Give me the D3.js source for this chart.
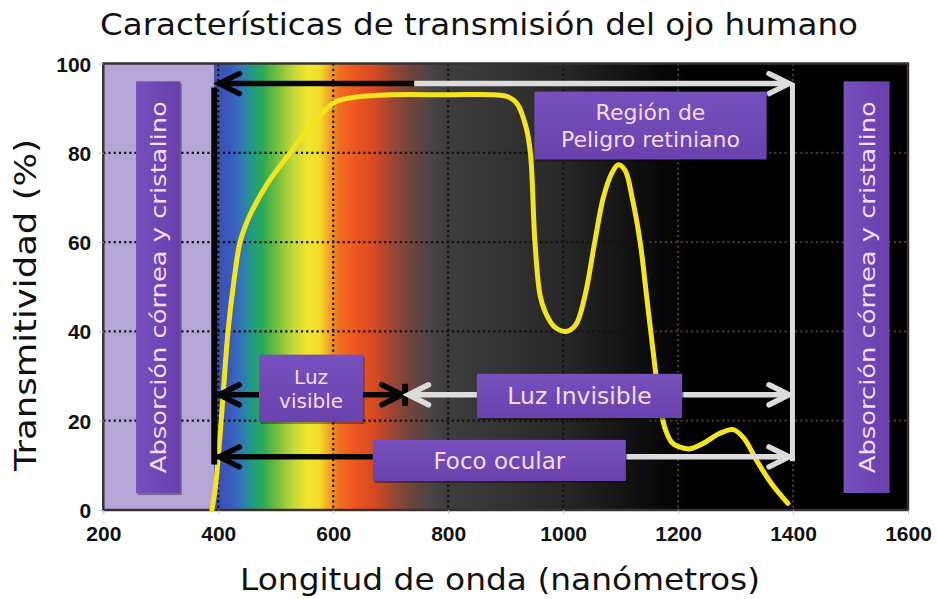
<!DOCTYPE html>
<html><head><meta charset="utf-8">
<script src="https://cdn.jsdelivr.net/npm/d3@7"></script>
<style>body{margin:0;background:#fff}svg{display:block}</style>
</head><body>
<svg id="c" width="937" height="599"></svg>
<script>
// ---- data ----
const wavelength = [389,395,402,408,417,428,438,455,485,525,551,582,605,640,700,800,880,905,920,935,943,951,960,970,985,1005,1022,1038,1055,1070,1085,1096,1108,1120,1134,1146,1158,1168,1178,1190,1205,1221,1245,1270,1296,1315,1337,1362,1391];
const transmission = [0,5,15,25,40,52,60,66,73,80,84.5,89,91.5,92.5,93,93,93,92.5,91,86,80,60,48,44,41,40,41.5,48,60,70,75.5,77.3,76,70,60,47,34,24,18,15,14,13.7,15,17,18,16,11,6,1.5];
const xTicks = [200,400,600,800,1000,1200,1400,1600];
const yTicks = [0,20,40,60,80,100];
const gridX = [400,600,800,1000,1200,1400];
const gridY = [20,40,60,80];
const titleText = "Características de transmisión del ojo humano";
const xTitle = "Longitud de onda (nanómetros)";
const yTitle = "Transmitividad (%)";
const boxLabels = [["Región de","Peligro retiniano"],["Luz","visible"],["Luz Invisible"],["Foco ocular"]];
const sideLabel = "Absorción córnea  y cristalino";
// box extents in data units [x0,x1,y0,y1]
const boxExtents = [[950,1354,78.5,93.7],[471,652,19.7,34.8],[850,1207,20.6,30.5],[669,1109,6.5,15.7]];
const sideBoxes = [[257,334,3.8,96],[1488,1568,3.8,96]];

// ---- layout ----
const svg = d3.select("#c");
const L = 103.3, R = 908, T = 63.5, B = 510;
const x = d3.scaleLinear().domain([200,1600]).range([L,R]);
const y = d3.scaleLinear().domain([0,100]).range([B,T]);

const defs = svg.append("defs");
const grad = defs.append("linearGradient").attr("id","spec")
  .attr("gradientUnits","userSpaceOnUse").attr("x1",x(393)).attr("x2",x(1220)).attr("y1",0).attr("y2",0);
const stops = [[393,"#3b4fb0"],[420,"#3a58bc"],[440,"#3276b8"],[458,"#1f9a86"],[478,"#2eaa55"],[505,"#7cc03a"],[530,"#c2d83a"],[555,"#f0e52e"],[575,"#f4de2a"],[592,"#f3a824"],[610,"#f0701e"],[640,"#ee5420"],[672,"#d44a22"],[700,"#a04630"],[735,"#6e443c"],[770,"#4a4444"],[800,"#3c3c3c"],[900,"#333"],[1000,"#272727"],[1100,"#141414"],[1220,"#000"]];
stops.forEach(s=>grad.append("stop").attr("offset",(s[0]-393)/(1220-393)).attr("stop-color",s[1]));
const pg = defs.append("linearGradient").attr("id","pbox").attr("x1",0).attr("x2",0).attr("y1",0).attr("y2",1);
pg.append("stop").attr("offset",0).attr("stop-color","#7650bd");
pg.append("stop").attr("offset",1).attr("stop-color","#6a42ae");
const sg = defs.append("linearGradient").attr("id","pboxv").attr("x1",0).attr("x2",1).attr("y1",0).attr("y2",0);
sg.append("stop").attr("offset",0).attr("stop-color","#7550bc");
sg.append("stop").attr("offset",1).attr("stop-color","#683fad");
defs.append("clipPath").attr("id","plot").append("rect").attr("x",L).attr("y",T).attr("width",R-L).attr("height",B-T);

// backgrounds
svg.append("rect").attr("x",L).attr("y",T).attr("width",R-L).attr("height",B-T).attr("fill","#000");
svg.append("rect").attr("x",x(393)).attr("y",T).attr("width",R-x(393)).attr("height",B-T).attr("fill","url(#spec)");
svg.append("rect").attr("x",L).attr("y",T).attr("width",x(393)-L).attr("height",B-T).attr("fill","#b4a6d6");

// grid
const g = svg.append("g").attr("clip-path","url(#plot)");
gridX.forEach(v=>{
  g.append("line").attr("x1",x(v)).attr("x2",x(v)).attr("y1",T).attr("y2",B)
   .attr("stroke",v>=1200?"#4a3424":"#111").attr("stroke-width",2.2).attr("stroke-dasharray","2.2,3");
});
gridY.forEach(v=>{
  g.append("line").attr("x1",L).attr("x2",x(1150)).attr("y1",y(v)).attr("y2",y(v))
   .attr("stroke","#111").attr("stroke-width",2.2).attr("stroke-dasharray","2.2,3");
  g.append("line").attr("x1",x(1150)).attr("x2",R).attr("y1",y(v)).attr("y2",y(v))
   .attr("stroke","#4a3424").attr("stroke-width",2.2).attr("stroke-dasharray","2.2,3");
});

// frame
svg.append("rect").attr("x",L).attr("y",T).attr("width",R-L).attr("height",B-T)
  .attr("fill","none").attr("stroke","#3a3030").attr("stroke-width",2.5);

// axes
const xa = svg.append("g").attr("transform",`translate(0,${B})`)
  .call(d3.axisBottom(x).tickValues(xTicks).tickFormat(d3.format("d")).tickSize(4).tickPadding(12));
xa.select(".domain").remove();
xa.selectAll("line").attr("stroke","#9cc8e8");
xa.selectAll("text").attr("font-family","Liberation Sans, Arial, sans-serif").attr("font-weight","bold")
  .attr("font-size",21).attr("fill","#111");
const ya = svg.append("g").attr("transform",`translate(${L},0)`)
  .call(d3.axisLeft(y).tickValues(yTicks).tickSize(4).tickPadding(8));
ya.select(".domain").remove();
ya.selectAll("line").attr("stroke","#9cc8e8");
ya.selectAll("text").attr("font-family","Liberation Sans, Arial, sans-serif").attr("font-weight","bold")
  .attr("font-size",21).attr("fill","#111").attr("dy","0.36em");

// titles
const gothic = "DejaVu Sans, Verdana, sans-serif";
svg.append("text").attr("x",479).attr("y",35).attr("text-anchor","middle")
  .attr("font-family",gothic).attr("font-size",31).attr("fill","#111")
  .attr("textLength",758).attr("lengthAdjust","spacingAndGlyphs").text(titleText);
svg.append("text").attr("x",500).attr("y",590).attr("text-anchor","middle")
  .attr("font-family",gothic).attr("font-size",31).attr("fill","#111")
  .attr("textLength",520).attr("lengthAdjust","spacingAndGlyphs").text(xTitle);
svg.append("text").attr("transform","translate(36,305) rotate(-90)").attr("text-anchor","middle")
  .attr("font-family",gothic).attr("font-size",31).attr("fill","#111")
  .attr("textLength",332).attr("lengthAdjust","spacingAndGlyphs").text(yTitle);

// curve
const pts = wavelength.map((w,i)=>[w,transmission[i]]);
svg.append("path").datum(pts).attr("fill","none").attr("stroke","#f4e41c").attr("stroke-width",5)
  .attr("stroke-linecap","round").attr("stroke-linejoin","round")
  .attr("d",d3.line().x(d=>x(d[0])).y(d=>y(d[1])).curve(d3.curveCatmullRom.alpha(0.5)));

// arrows
const BLACK="#050505", WHITE="#dcdcdc";
function seg(x1,x2,yy,col,w){svg.append("line").attr("x1",x1).attr("x2",x2).attr("y1",yy).attr("y2",yy)
  .attr("stroke",col).attr("stroke-width",w);}
function head(tx,yy,dir,col){ // dir -1: points left, +1 points right
  const l=20,h=10;
  svg.append("path").attr("d",`M${tx-dir*l},${yy-h}L${tx},${yy}L${tx-dir*l},${yy+h}`)
   .attr("fill","none").attr("stroke",col).attr("stroke-width",5.5).attr("stroke-linecap","round").attr("stroke-linejoin","miter");
}
function vline(xx,y1,y2,col,w){svg.append("line").attr("x1",xx).attr("x2",xx).attr("y1",y1).attr("y2",y2).attr("stroke",col).attr("stroke-width",w);}

// verticals
vline(x(393),y(94.6),y(10.2),BLACK,6);
vline(x(1399),y(95.5),y(10.9),WHITE,5);
// top arrow
const yTop=y(95.5);
seg(x(393)+3,x(741),yTop,BLACK,5.5); head(x(393)+5,yTop,-1,BLACK);
seg(x(741),x(1390),yTop,WHITE,5.5); head(x(1393),yTop,1,WHITE);
// luz visible / invisible
const yMid=y(25.8);
seg(x(393)+3,x(471),yMid,BLACK,5.5); head(x(393)+5,yMid,-1,BLACK);
seg(x(652),x(723),yMid,BLACK,5.5); head(x(723)-2,yMid,1,BLACK);
vline(x(725),yMid-11,yMid+11,BLACK,6);
seg(x(734),x(850),yMid,WHITE,5.5); head(x(731),yMid,-1,WHITE);
seg(x(1207),x(1390),yMid,WHITE,5.5); head(x(1393),yMid,1,WHITE);
// foco
const yLow=y(11.9);
seg(x(393)+3,x(669),yLow,BLACK,5.5); head(x(393)+5,yLow,-1,BLACK);
seg(x(1109),x(1390),yLow,WHITE,5.5); head(x(1393),yLow,1,WHITE);

// boxes
function box(e,fill){
  svg.append("rect").attr("x",x(e[0])+1.5).attr("y",y(e[3])+2).attr("width",x(e[1])-x(e[0])).attr("height",y(e[2])-y(e[3]))
    .attr("fill","rgba(0,0,0,0.35)");
  svg.append("rect").attr("x",x(e[0])).attr("y",y(e[3])).attr("width",x(e[1])-x(e[0])).attr("height",y(e[2])-y(e[3]))
    .attr("fill",fill);
}
const TXT="#f6dcf2";
const boxFont=[22,20,23.5,23];
boxExtents.forEach((e,i)=>{
  box(e,"url(#pbox)");
  const lines=boxLabels[i];
  const cx=(x(e[0])+x(e[1]))/2, cy=(y(e[2])+y(e[3]))/2;
  const fs = boxFont[i];
  const lh = i===0?27:24;
  lines.forEach((t,j)=>{
    svg.append("text").attr("x",cx).attr("y",cy+(j-(lines.length-1)/2)*lh).attr("dy","0.36em")
      .attr("text-anchor","middle").attr("font-family",gothic).attr("font-size",fs).attr("fill",TXT).text(t);
  });
});
sideBoxes.forEach(e=>{
  box(e,"url(#pboxv)");
  const cx=(x(e[0])+x(e[1]))/2, cy=(y(e[2])+y(e[3]))/2;
  svg.append("text").attr("transform",`translate(${cx},${cy}) rotate(-90)`).attr("dy","0.36em")
    .attr("text-anchor","middle").attr("font-family",gothic).attr("font-size",22).attr("fill",TXT)
    .attr("textLength",372).attr("lengthAdjust","spacingAndGlyphs").text(sideLabel);
});
</script>
</body></html>
